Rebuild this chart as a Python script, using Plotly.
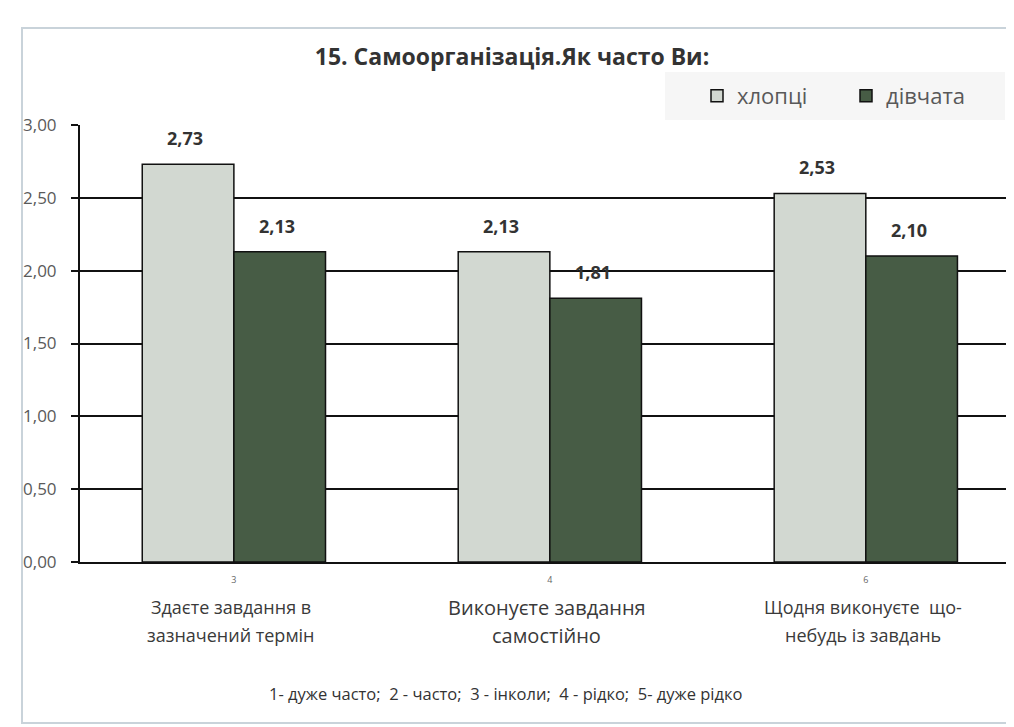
import plotly.graph_objects as go

# ---- data ----
categories = ["Здаєте завдання в<br>зазначений термін",
              "Виконуєте завдання<br>самостійно",
              "Щодня виконуєте  що-<br>небудь із завдань"]
codes = ["3", "4", "6"]
boys = [2.73, 2.13, 2.53]
girls = [2.13, 1.81, 2.10]
series_names = ["хлопці", "дівчата"]
title_text = "15. Самоорганізація.Як часто Ви:"
note_text = "1- дуже часто;  2 - часто;  3 - інколи;  4 - рідко;  5- дуже рідко"
y_ticks = [0, 0.5, 1.0, 1.5, 2.0, 2.5, 3.0]

# ---- styling ----
FONT = "Open Sans"
W, H = 1006, 719          # page has an 8px body margin
L, R, T, B = 72, 6, 117, 165
PW, PH = W - L - R, H - T - B
label_sizes = [18, 20, 18]
colors = ["#d2d8d1", "#475c45"]
BAR_HALF = 46  # px offset of a bar centre from the category centre


def px_x(x):  # figure px -> paper
    return (x - L) / PW


def px_y(y):
    return (H - B - y) / PH


idx = list(range(len(codes)))

fig = go.Figure()
for name, vals, col in [(series_names[0], boys, colors[0]), (series_names[1], girls, colors[1])]:
    fig.add_trace(go.Bar(
        x=idx, y=vals, name=name,
        marker=dict(color=col, line=dict(color="#111111", width=1.5)),
        hoverinfo="y",
    ))

# value labels
for sgn, vals in [(-1, boys), (1, girls)]:
    for i, v in zip(idx, vals):
        fig.add_annotation(x=i, y=v, xref="x", yref="y",
                           text="<b>" + ("%.2f" % v).replace(".", ",") + "</b>",
                           showarrow=False, yanchor="bottom", xshift=sgn * BAR_HALF - 3, yshift=12,
                           font=dict(family=FONT, size=18, color="#333333"))

# category labels under the axis (one annotation per line)
for i, lab, fs in zip(idx, categories, label_sizes):
    for j, line in enumerate(lab.split("<br>")):
        fig.add_annotation(x=i, y=0, xref="x", yref="y", text=line, showarrow=False,
                           yanchor="middle", yshift=-(45 + 28 * j), xshift=-3,
                           font=dict(family=FONT, size=fs, color="#3a3a3a"))

fig.add_annotation(x=px_x(505 - 8), y=px_y(693 - 8), xref="paper", yref="paper", text=note_text,
                   showarrow=False, xanchor="center", yanchor="middle",
                   font=dict(family=FONT, size=16.5, color="#333333"))

# chart frame
fig.add_shape(type="rect", xref="paper", yref="paper",
              x0=px_x(14), x1=px_x(1000), y0=px_y(715), y1=px_y(20),
              line=dict(color="#c9d3da", width=2), fillcolor="rgba(0,0,0,0)", layer="below")
# legend box
fig.add_shape(type="rect", xref="paper", yref="paper",
              x0=px_x(657), x1=px_x(997), y0=px_y(112), y1=px_y(64),
              line=dict(width=0), fillcolor="#f6f6f6", layer="below")

fig.update_layout(
    width=W, height=H,
    margin=dict(l=L, r=R, t=T, b=B),
    paper_bgcolor="white", plot_bgcolor="rgba(0,0,0,0)",
    separators=", ",
    barmode="group", bargap=0.42, bargroupgap=0,
    title=dict(text="<b>" + title_text + "</b>", x=(512 - 8) / W, xanchor="center",
               y=1 - (57 - 8) / H, yanchor="middle",
               font=dict(family=FONT, size=23, color="#333333")),
    legend=dict(orientation="h", xref="paper", yref="paper",
                x=px_x(689), y=px_y(67), xanchor="left", yanchor="top",
                bgcolor="rgba(0,0,0,0)", font=dict(family=FONT, size=22, color="#595959"),
                entrywidth=104, itemwidth=30),
    xaxis=dict(range=[-0.487, 2.45], tickvals=idx, ticktext=codes,
               tickfont=dict(family=FONT, size=9, color="#666666"),
               showline=True, linecolor="#111111", linewidth=2, ticks="",
               ticklabelstandoff=8, showgrid=False, zeroline=False),
    yaxis=dict(range=[0, 3], tickvals=y_ticks, tickformat=".2f",
               showgrid=True, gridcolor="#111111", gridwidth=1.5,
               showline=True, linecolor="#111111", linewidth=2,
               ticks="outside", ticklen=7, tickcolor="#111111", tickwidth=1.5,
               zeroline=False,
               tickfont=dict(family=FONT, size=17, color="#5a5a5a"), ticklabelstandoff=11),
    showlegend=True,
)

fig.write_html("out.html")
